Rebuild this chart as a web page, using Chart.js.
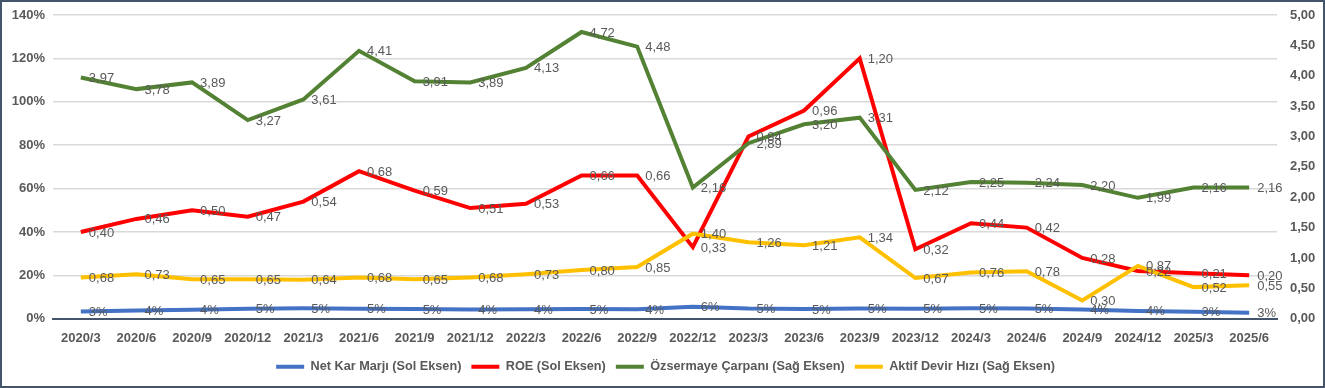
<!DOCTYPE html>
<html>
<head>
<meta charset="utf-8">
<script src="https://cdn.jsdelivr.net/npm/chart.js@4.4.0/dist/chart.umd.min.js"></script>
<style>
    html, body { margin: 0; padding: 0; background: #ffffff; }
    #frame {
        width: 1321px;
        height: 384px;
        border: 2px solid #44546a;
        position: relative;
    }
</style>
</head>
<body>
<div id="frame">
    <canvas id="ratioChart" width="1321" height="384"></canvas>
</div>
<script>
const periods = ["2020/3", "2020/6", "2020/9", "2020/12", "2021/3", "2021/6", "2021/9", "2021/12",
    "2022/3", "2022/6", "2022/9", "2022/12", "2023/3", "2023/6", "2023/9", "2023/12",
    "2024/3", "2024/6", "2024/9", "2024/12", "2025/3", "2025/6"];

// left axis (fractions shown as %)
const netProfitMargin = [0.033, 0.038, 0.041, 0.046, 0.048, 0.046, 0.045, 0.042, 0.043, 0.045, 0.043,
    0.055, 0.047, 0.045, 0.047, 0.046, 0.048, 0.047, 0.042, 0.036, 0.032, 0.028];
const roe = [0.40, 0.46, 0.50, 0.47, 0.54, 0.68, 0.59, 0.51, 0.53, 0.66, 0.66,
    0.33, 0.84, 0.96, 1.20, 0.32, 0.44, 0.42, 0.28, 0.22, 0.21, 0.20];

// right axis
const equityMultiplier = [3.97, 3.78, 3.89, 3.27, 3.61, 4.41, 3.91, 3.89, 4.13, 4.72, 4.48,
    2.16, 2.89, 3.20, 3.31, 2.12, 2.25, 2.24, 2.20, 1.99, 2.16, 2.16];
const assetTurnover = [0.68, 0.73, 0.65, 0.65, 0.64, 0.68, 0.65, 0.68, 0.73, 0.80, 0.85,
    1.40, 1.26, 1.21, 1.34, 0.67, 0.76, 0.78, 0.30, 0.87, 0.52, 0.55];

const leftTicks = { min: 0, max: 1.4, step: 0.2 };
const rightTicks = { min: 0, max: 5, step: 0.5 };

const textGray = "#595959";
const fontFamily = "'Liberation Sans', Arial, sans-serif";

function commaNumber(v) {
    return v.toFixed(2).replace(".", ",");
}

function percentLabel(v) {
    return Math.round(v * 100) + "%";
}

// simple data labels, drawn to the right of each point
const pointLabels = {
    id: "pointLabels",
    afterDatasetsDraw(chart) {
        const ctx = chart.ctx;
        ctx.save();
        ctx.font = "13px " + fontFamily;
        ctx.fillStyle = textGray;
        ctx.textBaseline = "middle";
        ctx.textAlign = "left";
        chart.data.datasets.forEach((ds, i) => {
            const meta = chart.getDatasetMeta(i);
            meta.data.forEach((pt, j) => {
                const txt = ds.labelFormat(ds.data[j]);
                ctx.fillText(txt, pt.x + 8, pt.y + 1);
            });
        });
        ctx.restore();
    }
};

function lineSet(label, data, color, axis, fmt, order) {
    return {
        label: label,
        data: data,
        yAxisID: axis,
        borderColor: color,
        backgroundColor: color,
        borderWidth: 4,
        pointRadius: 0,
        tension: 0,
        labelFormat: fmt,
        order: order
    };
}

// keep the plot top close to the frame like the original
function tightVertical(width) {
    return function (scale) {
        scale.width = width;
        scale.paddingTop = 13;
        scale.paddingBottom = 0;
    };
}

const ctx = document.getElementById("ratioChart").getContext("2d");

const ratioChart = new Chart(ctx, {
    type: "line",
    data: {
        labels: periods,
        datasets: [
            lineSet("Net Kar Marjı (Sol Eksen)", netProfitMargin, "#4472c4", "yLeft", percentLabel, 4),
            lineSet("ROE (Sol Eksen)", roe, "#ff0000", "yLeft", commaNumber, 3),
            lineSet("Özsermaye Çarpanı (Sağ Eksen)", equityMultiplier, "#548235", "yRight", commaNumber, 2),
            lineSet("Aktif Devir Hızı (Sağ Eksen)", assetTurnover, "#ffc000", "yRight", commaNumber, 1)
        ]
    },
    options: {
        responsive: false,
        animation: false,
        layout: { padding: { left: 6, right: 0, top: 0, bottom: 3 } },
        plugins: {
            tooltip: { enabled: false },
            legend: {
                position: "bottom",
                labels: {
                    usePointStyle: true,
                    pointStyle: "line",
                    pointStyleWidth: 28,
                    boxHeight: 4,
                    padding: 10,
                    color: textGray,
                    font: { family: fontFamily, size: 12.7, weight: "bold" },
                    sort: (a, b) => a.datasetIndex - b.datasetIndex
                }
            }
        },
        scales: {
            x: {
                offset: true,
                grid: { display: false },
                border: { display: true, color: "#44546a", width: 2 },
                ticks: {
                    color: textGray,
                    font: { family: fontFamily, size: 13, weight: "bold" },
                    maxRotation: 0,
                    autoSkip: false,
                    padding: 4
                }
            },
            yLeft: {
                position: "left",
                min: leftTicks.min,
                max: leftTicks.max,
                grid: { color: "#d9d9d9", lineWidth: 1.5, drawTicks: false },
                border: { display: false },
                ticks: {
                    stepSize: leftTicks.step,
                    color: textGray,
                    padding: 8,
                    font: { family: fontFamily, size: 13, weight: "bold" },
                    callback: v => Math.round(v * 100) + "%"
                },
                afterFit: tightVertical(45)
            },
            yRight: {
                position: "right",
                min: rightTicks.min,
                max: rightTicks.max,
                grid: { display: false, drawTicks: false },
                border: { display: false },
                ticks: {
                    stepSize: rightTicks.step,
                    color: textGray,
                    padding: 13,
                    font: { family: fontFamily, size: 13, weight: "bold" },
                    callback: v => commaNumber(v)
                },
                afterFit: tightVertical(46)
            }
        }
    },
    plugins: [pointLabels]
});
</script>
</body>
</html>
